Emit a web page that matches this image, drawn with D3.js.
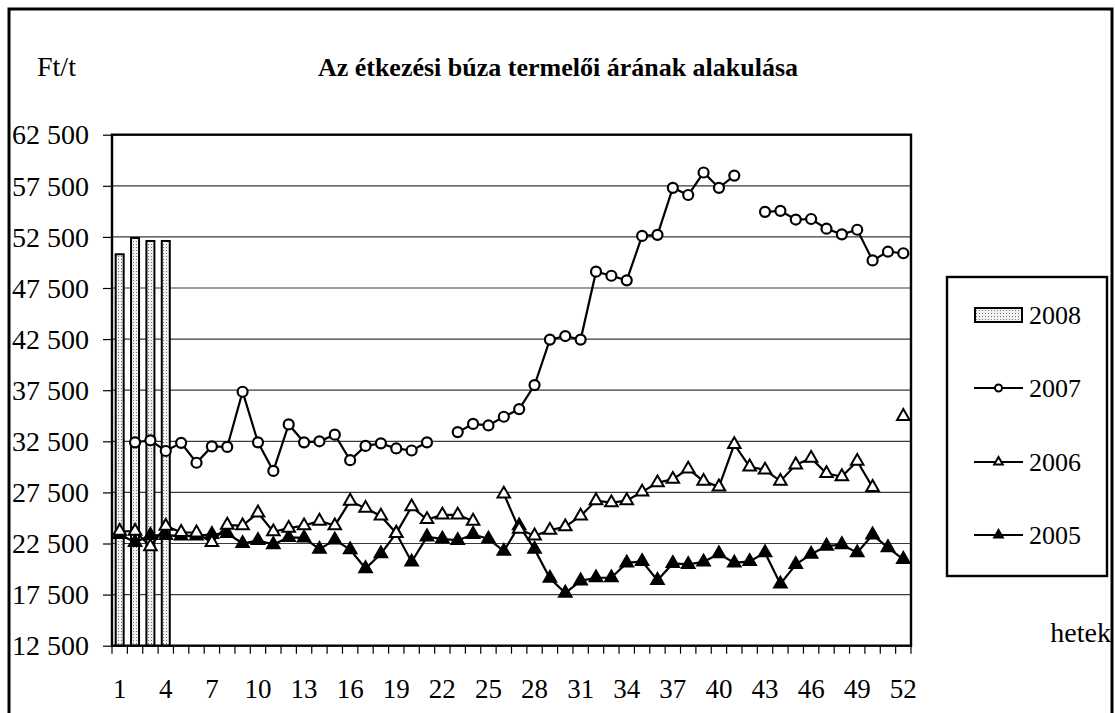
<!DOCTYPE html>
<html>
<head>
<meta charset="utf-8">
<script src="https://cdn.jsdelivr.net/npm/d3@7"></script>
<style>
  body { margin: 0; background: #fff; }
  svg text { font-family: "Liberation Serif", "DejaVu Serif", serif; fill: #000; }
</style>
</head>
<body>
<div id="chart"></div>
<script>
// weeks 1..52
var weeks = d3.range(1, 53);
var weekLabels = d3.range(1, 53, 3);
var yTicks = [12500, 17500, 22500, 27500, 32500, 37500, 42500, 47500, 52500, 57500, 62500];

// 2008 bars (only the first 4 weeks)
var v2008 = [50800, 52400, 52100, 52100];

// null = no data that week
var v2007 = [null, 32400, 32600, 31550, 32350, 30400, 32000, 31950, 37350, 32400,
  29600, 34150, 32400, 32500, 33150, 30650, 32050, 32300, 31800, 31600,
  32400, null, 33400, 34200, 34050, 34900, 35650, 38000, 42450, 42800,
  42450, 49100, 48700, 48250, 52600, 52700, 57300, 56600, 58800, 57300,
  58500, null, 54950, 55050, 54200, 54250, 53300, 52750, 53200, 50200,
  51050, 50900];

var v2006 = [23700, 23700, 22200, 24200, 23600, 23550, 22600, 24300, 24250, 25500,
  23650, 24000, 24250, 24700, 24250, 26650, 25950, 25200, 23500, 26100,
  24850, 25300, 25300, 24700, null, 27350, 23900, 23250, 23800, 24150,
  25200, 26700, 26500, 26700, 27550, 28450, 28800, 29800, 28600, 28050,
  32200, 30000, 29700, 28600, 30200, 30850, 29350, 29050, 30550, 28000,
  null, 34950];

var v2005 = [23400, 22600, 23300, 23300, 23250, 23250, 23400, 23500, 22500, 22800,
  22400, 23100, 23050, 21950, 22850, 21900, 20050, 21500, 23500, 20700,
  23150, 22950, 22800, 23400, 22950, 21750, 24250, 21950, 19100, 17650,
  18850, 19150, 19150, 20600, 20750, 18900, 20550, 20450, 20700, 21500,
  20600, 20750, 21600, 18550, 20450, 21450, 22250, 22400, 21600, 23350,
  22100, 20950];

var W = 1115, H = 713;
var pLeft = 112, pRight = 911, pTop = 134.7, pBottom = 645.7;
var serif = "Liberation Serif";

var svg = d3.select("#chart").append("svg")
  .attr("width", W)
  .attr("height", H)
  .attr("font-family", serif);

// stipple pattern for the 2008 bars
var pat = svg.append("defs").append("pattern")
  .attr("id", "dots")
  .attr("width", 3).attr("height", 3)
  .attr("patternUnits", "userSpaceOnUse");
pat.append("rect").attr("width", 3).attr("height", 3).attr("fill", "#f2f2f2");
pat.append("rect").attr("x", 1).attr("y", 1).attr("width", 1).attr("height", 1).attr("fill", "#777");

// outer frame
svg.append("rect")
  .attr("x", 9).attr("y", 9)
  .attr("width", 1103).attr("height", 740)
  .attr("fill", "none").attr("stroke", "#000").attr("stroke-width", 3);

var x = d3.scaleBand().domain(weeks).range([pLeft, pRight]).padding(0);
var y = d3.scaleLinear().domain([12500, 62500]).range([pBottom, pTop]);
var cx = function(w) { return x(w) + x.bandwidth() / 2; };

var loc = d3.formatLocale({ decimal: ",", thousands: " ", grouping: [3], currency: ["", ""] });
var fmt = loc.format(",d");

// gridlines
svg.append("g")
  .selectAll("line")
  .data(yTicks.slice(1, -1))
  .enter().append("line")
  .attr("x1", pLeft).attr("x2", pRight)
  .attr("y1", function(d) { return y(d); })
  .attr("y2", function(d) { return y(d); })
  .attr("stroke", "#3a3a3a")
  .attr("stroke-width", 1.2);

// y axis
var yAxis = svg.append("g")
  .attr("transform", "translate(" + pLeft + ",0)")
  .call(d3.axisLeft(y).tickValues(yTicks).tickFormat(fmt).tickSize(9).tickPadding(14))
  .attr("font-family", serif);
yAxis.select(".domain").remove();
yAxis.selectAll("line").attr("stroke", "#000").attr("stroke-width", 1.2);
yAxis.selectAll("text").attr("font-size", 28).attr("font-family", serif).attr("dy", "0.33em");

// x axis: ticks at week boundaries, labels every 3rd week
var bounds = weeks.map(function(w) { return x(w); }).concat([pRight]);
svg.append("g")
  .selectAll("line")
  .data(bounds)
  .enter().append("line")
  .attr("x1", function(d) { return d; }).attr("x2", function(d) { return d; })
  .attr("y1", pBottom).attr("y2", pBottom + 8)
  .attr("stroke", "#000").attr("stroke-width", 1.2);

svg.append("g")
  .selectAll("text")
  .data(weekLabels)
  .enter().append("text")
  .attr("x", function(d) { return cx(d); })
  .attr("y", 698)
  .attr("text-anchor", "middle")
  .attr("font-family", serif)
  .attr("font-size", 27)
  .text(function(d) { return d; });

// bars 2008
svg.append("g")
  .selectAll("rect")
  .data(v2008)
  .enter().append("rect")
  .attr("x", function(d, i) { return cx(i + 1) - 4; })
  .attr("width", 8)
  .attr("y", function(d) { return y(d); })
  .attr("height", function(d) { return pBottom - y(d); })
  .attr("fill", "url(#dots)")
  .attr("stroke", "#000")
  .attr("stroke-width", 2);

// plot frame
svg.append("rect")
  .attr("x", pLeft).attr("y", pTop)
  .attr("width", pRight - pLeft).attr("height", pBottom - pTop)
  .attr("fill", "none").attr("stroke", "#000").attr("stroke-width", 2.4);

var line = d3.line()
  .defined(function(d) { return d != null; })
  .x(function(d, i) { return cx(i + 1); })
  .y(function(d) { return y(d); });

var triUp = d3.symbol().type(d3.symbolTriangle).size(68);

function drawSeries(vals, marker) {
  var g = svg.append("g");
  g.append("path")
    .datum(vals)
    .attr("d", line)
    .attr("fill", "none")
    .attr("stroke", "#000")
    .attr("stroke-width", 2.2);
  var pts = vals.map(function(v, i) { return { w: i + 1, v: v }; })
    .filter(function(d) { return d.v != null; });
  if (marker === "circle") {
    g.selectAll("circle").data(pts).enter().append("circle")
      .attr("cx", function(d) { return cx(d.w); })
      .attr("cy", function(d) { return y(d.v); })
      .attr("r", 5)
      .attr("fill", "#fff").attr("stroke", "#000").attr("stroke-width", 2.2);
  } else {
    g.selectAll("path.m").data(pts).enter().append("path")
      .attr("class", "m")
      .attr("d", triUp)
      .attr("transform", function(d) { return "translate(" + cx(d.w) + "," + y(d.v) + ")"; })
      .attr("fill", marker === "tri-open" ? "#fff" : "#000")
      .attr("stroke", "#000").attr("stroke-width", 2);
  }
}

drawSeries(v2005, "tri-fill");
drawSeries(v2006, "tri-open");
drawSeries(v2007, "circle");

// titles
svg.append("text")
  .attr("x", 558).attr("y", 76)
  .attr("text-anchor", "middle")
  .attr("font-family", serif)
  .attr("font-size", 26).attr("font-weight", "bold")
  .text("Az étkezési búza termelői árának alakulása");

svg.append("text")
  .attr("x", 37).attr("y", 76)
  .attr("font-family", serif)
  .attr("font-size", 28)
  .text("Ft/t");

svg.append("text")
  .attr("x", 1111).attr("y", 642)
  .attr("text-anchor", "end")
  .attr("font-family", serif)
  .attr("font-size", 28)
  .text("hetek");

// legend
var legend = svg.append("g");
legend.append("rect")
  .attr("x", 947).attr("y", 277)
  .attr("width", 160).attr("height", 299)
  .attr("fill", "#fff").attr("stroke", "#000").attr("stroke-width", 2.4);

var legendItems = [
  { name: "2008", kind: "bar", y: 315 },
  { name: "2007", kind: "circle", y: 388 },
  { name: "2006", kind: "tri-open", y: 462 },
  { name: "2005", kind: "tri-fill", y: 535 }
];

legendItems.forEach(function(it) {
  if (it.kind === "bar") {
    legend.append("rect")
      .attr("x", 975).attr("y", it.y - 7)
      .attr("width", 47).attr("height", 14)
      .attr("fill", "url(#dots)").attr("stroke", "#000").attr("stroke-width", 2);
  } else {
    legend.append("line")
      .attr("x1", 974).attr("x2", 1023)
      .attr("y1", it.y).attr("y2", it.y)
      .attr("stroke", "#000").attr("stroke-width", 2);
    if (it.kind === "circle") {
      legend.append("circle")
        .attr("cx", 998.5).attr("cy", it.y).attr("r", 3.5)
        .attr("fill", "#fff").attr("stroke", "#000").attr("stroke-width", 2);
    } else {
      legend.append("path")
        .attr("d", d3.symbol().type(d3.symbolTriangle).size(32))
        .attr("transform", "translate(998.5," + it.y + ")")
        .attr("fill", it.kind === "tri-open" ? "#fff" : "#000")
        .attr("stroke", "#000").attr("stroke-width", 2);
    }
  }
  legend.append("text")
    .attr("x", 1029).attr("y", it.y + 9)
    .attr("font-family", serif)
    .attr("font-size", 26)
    .text(it.name);
});
</script>
</body>
</html>
